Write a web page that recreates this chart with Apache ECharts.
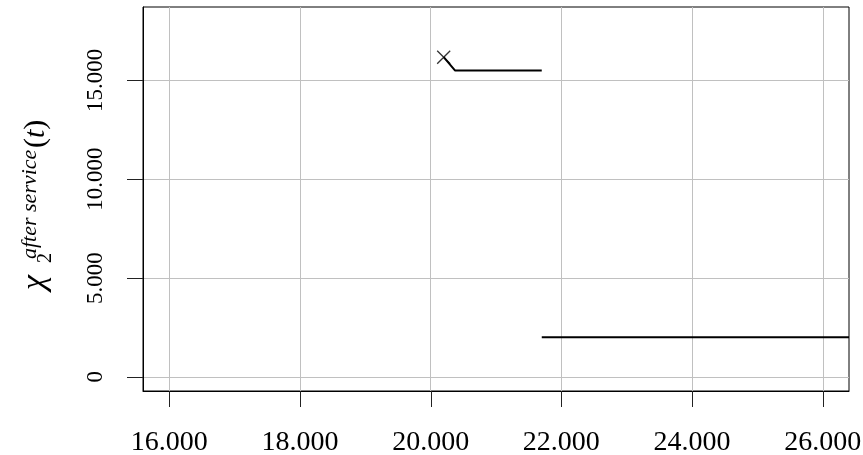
<!DOCTYPE html>
<html>
<head>
<meta charset="utf-8">
<script src="https://cdn.jsdelivr.net/npm/echarts@6/dist/echarts.min.js"></script>
<style>html,body{margin:0;padding:0;background:#fff;}#c{width:863px;height:455px;}</style>
</head>
<body>
<div id="c"></div>
<script>
// Data
const xTicks = [16000, 18000, 20000, 22000, 24000, 26000];
const yTicks = [0, 5000, 10000, 15000];
const upperLine = [[20200, 16180], [20375, 15500], [21700, 15500]];
const lowerLine = [[21700, 2000], [26400, 2000]];
const startMarker = [[20200, 16180]];
const xMin = 15600, xMax = 26400, yMin = -720, yMax = 18720;

const fmt = v => v === 0 ? '0' : (v / 1000).toFixed(3);
const serif = '"Liberation Serif", "DejaVu Serif", serif';
const TICK = 16;

function xTickItem(params, api) {
  const p = api.coord([api.value(0), api.value(1)]);
  const x = Math.round(p[0]) + 0.5;
  return {type: 'line', shape: {x1: x, y1: p[1], x2: x, y2: p[1] + TICK}, style: {stroke: '#222', lineWidth: 1}};
}
function yTickItem(params, api) {
  const p = api.coord([api.value(0), api.value(1)]);
  const y = Math.round(p[1]) + 0.5;
  return {type: 'line', shape: {x1: p[0] - TICK, y1: y, x2: p[0], y2: y}, style: {stroke: '#222', lineWidth: 1}};
}

const chart = echarts.init(document.getElementById('c'), null, {renderer: 'canvas'});
chart.setOption({
  animation: false,
  backgroundColor: '#fff',
  grid: {left: 143, right: 14, top: 7, bottom: 64, outerBoundsMode: 'none', containLabel: false,
         show: true, borderColor: '#000', borderWidth: 1, backgroundColor: 'transparent'},
  xAxis: {
    type: 'value', min: xMin, max: xMax,
    axisLine: {show: true, onZero: false, lineStyle: {color: '#000', width: 1}},
    axisTick: {show: false, customValues: xTicks},
    axisLabel: {customValues: xTicks, formatter: fmt, margin: 38, fontFamily: serif, fontSize: 28, color: '#000'},
    splitLine: {show: true, lineStyle: {color: '#c0c0c0', width: 1}}
  },
  yAxis: {
    type: 'value', min: yMin, max: yMax,
    axisLine: {show: true, onZero: false, lineStyle: {color: '#000', width: 1}},
    axisTick: {show: false, customValues: yTicks},
    axisLabel: {customValues: yTicks, formatter: fmt, rotate: 90, margin: 36, fontFamily: serif, fontSize: 23, color: '#000'},
    splitLine: {show: true, lineStyle: {color: '#c0c0c0', width: 1}}
  },
  series: [
    {type: 'line', data: upperLine, symbol: 'none', lineStyle: {color: '#000', width: 2}, clip: true, z: 3},
    {type: 'line', data: lowerLine, symbol: 'none', lineStyle: {color: '#000', width: 2}, clip: true, z: 3},
    {type: 'scatter', data: startMarker, symbol: 'path://M0,0L10,10M10,0L0,10', symbolSize: 13,
     itemStyle: {color: 'transparent', borderColor: '#000', borderWidth: 1.3}, z: 4},
    {type: 'custom', data: xTicks.map(v => [v, yMin]), encode: {x: 0, y: 1}, renderItem: xTickItem, clip: false, silent: true, z: 5},
    {type: 'custom', data: yTicks.map(v => [xMin, v]), encode: {x: 0, y: 1}, renderItem: yTickItem, clip: false, silent: true, z: 5}
  ],
  graphic: [{
    type: 'group', x: 47, y: 290, rotation: Math.PI / 2,
    children: [
      {type: 'text', x: 0, y: -12, style: {text: 'χ', fontSize: 34, fontStyle: 'italic', fontFamily: serif, fill: '#000', align: 'left', verticalAlign: 'middle'}},
      {type: 'text', x: 27, y: -1, style: {text: '2', fontSize: 20, fontFamily: serif, fill: '#000', align: 'left', verticalAlign: 'middle'}},
      {type: 'text', x: 31, y: -17, style: {text: 'after service', fontSize: 22, fontStyle: 'italic', fontFamily: serif, fill: '#000', align: 'left', verticalAlign: 'middle'}},
      {type: 'text', x: 142, y: -11, style: {text: '({i|t})', fontSize: 30, fontFamily: serif, fill: '#000', align: 'left', verticalAlign: 'middle',
        rich: {i: {fontStyle: 'italic', fontSize: 30, fontFamily: serif}}}}
    ]
  }]
});
</script>
</body>
</html>
